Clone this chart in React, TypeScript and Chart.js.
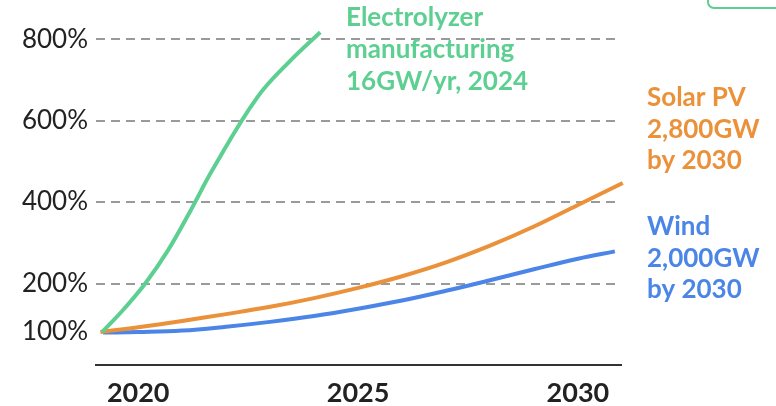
import React, { useEffect, useRef } from "react";
import { Chart, registerables, LinearScale } from "chart.js";

// ---- Data ----
const xTickYears = [2020, 2025, 2030];
const yTickValues = [100, 200, 400, 600, 800];

const electrolyzerYears = [2019.18, 2019.66, 2020.16, 2020.68, 2021.18, 2021.7, 2022.7, 2023.45, 2024.14];
const electrolyzerValues = [100, 146, 200, 282, 377, 481, 656, 746, 817];

const solarYears = [2019.14, 2020, 2021, 2022, 2023, 2024, 2025, 2026, 2027, 2028, 2029, 2030, 2031.02];
const solarValues = [100, 110, 123, 137, 152, 170, 191, 218, 252, 293, 340, 393, 447];

const windYears = [2019.2, 2020, 2021, 2022, 2023, 2024, 2025, 2026, 2027, 2028, 2029, 2030, 2030.84];
const windValues = [99, 100, 103, 111, 121, 133, 148, 165, 185, 208, 235, 261, 279];

const electrolyzerLabel = ["Electrolyzer", "manufacturing", "16GW/yr, 2024"];
const solarLabel = ["Solar PV", "2,800GW", "by 2030"];
const windLabel = ["Wind", "2,000GW", "by 2030"];

// ---- Style ----
const GREEN = "#5ccf91";
const ORANGE = "#ea9139";
const BLUE = "#4b85e8";
const TEXT = "#222222";
const GRID = "#9a9a9a";

// The reference axis is stretched below 200%
const LOW_STRETCH = 0.49 / 0.4112;

class BrokenLinearScale extends LinearScale {
  static id = "brokenLinear";
  static defaults = LinearScale.defaults;
  getPixelForValue(value: number) {
    const v = value >= 200 ? value : 200 - (200 - value) * LOW_STRETCH;
    return super.getPixelForValue(v);
  }
  getValueForPixel(pixel: number) {
    const v = super.getValueForPixel(pixel) as number;
    return v >= 200 ? v : 200 - (200 - v) / LOW_STRETCH;
  }
}

Chart.register(...registerables, BrokenLinearScale as any);

const toPoints = (xs: number[], ys: number[]) => xs.map((x, i) => ({ x, y: ys[i] }));

const labelsPlugin = {
  id: "sideLabels",
  afterDraw(chart: any) {
    const ctx = chart.ctx;
    ctx.save();
    ctx.font = "bold 26px Lato";
    ctx.textAlign = "left";
    ctx.textBaseline = "alphabetic";
    const groups: [string[], string, number, number, number][] = [
      [electrolyzerLabel, GREEN, 346, 26, 32],
      [solarLabel, ORANGE, 647, 106, 31.5],
      [windLabel, BLUE, 647, 235, 31.5],
    ];
    for (const [lines, color, x, y, lh] of groups) {
      ctx.fillStyle = color;
      lines.forEach((t, i) => ctx.fillText(t, x, y + i * lh));
    }
    ctx.restore();
  },
};

export default function App() {
  const canvasRef = useRef<HTMLCanvasElement | null>(null);

  useEffect(() => {
    if (!canvasRef.current) return;
    Chart.defaults.font.family = "Lato";
    const lineStyle = {
      borderWidth: 4,
      pointRadius: 0,
      tension: 0.4,
      clip: false as any,
    };
    const chart = new Chart(canvasRef.current, {
      type: "line",
      data: {
        datasets: [
          { label: "Electrolyzer", data: toPoints(electrolyzerYears, electrolyzerValues), borderColor: GREEN, ...lineStyle },
          { label: "Solar PV", data: toPoints(solarYears, solarValues), borderColor: ORANGE, ...lineStyle },
          { label: "Wind", data: toPoints(windYears, windValues), borderColor: BLUE, ...lineStyle },
        ],
      },
      options: {
        animation: false,
        responsive: false,
        devicePixelRatio: 1,
        layout: { padding: { left: 0, right: 155, top: 20, bottom: 0 } },
        plugins: { legend: { display: false }, tooltip: { enabled: false } },
        scales: {
          x: {
            type: "linear",
            min: 2019.04,
            max: 2030.98,
            afterBuildTicks: (axis: any) => {
              axis.ticks = xTickYears.map((value) => ({ value }));
            },
            afterFit: (scale: any) => {
              scale.height = 41;
            },
            grid: { display: false, drawTicks: false },
            border: { display: true, color: "#333333", width: 2 },
            ticks: {
              padding: 12,
              color: TEXT,
              font: { family: "Lato", size: 27, weight: "bold" },
              callback: (v: any) => String(v),
              maxRotation: 0,
              autoSkip: false,
            },
          },
          y: {
            type: "brokenLinear" as any,
            min: 0,
            max: 838.2,
            afterBuildTicks: (axis: any) => {
              axis.ticks = yTickValues.map((value) => ({ value }));
            },
            afterFit: (scale: any) => {
              scale.width = 96;
            },
            grid: {
              drawTicks: false,
              lineWidth: 2,
              color: (c: any) => (c.tick && c.tick.value === 100 ? "rgba(0,0,0,0)" : GRID),
            },
            border: { display: false, dash: [9, 6] },
            ticks: {
              padding: 8,
              color: TEXT,
              font: { family: "Lato", size: 26, weight: "normal" },
              callback: (v: any) => v + "%",
              autoSkip: false,
            },
          },
        },
      },
      plugins: [labelsPlugin],
    } as any);
    return () => chart.destroy();
  }, []);

  return (
    <div style={{ position: "fixed", left: 0, top: 0, width: 776, height: 406, background: "#fff", overflow: "hidden" }}>
      <canvas ref={canvasRef} width={776} height={406} style={{ display: "block" }} />
      <div
        style={{
          position: "absolute",
          left: 707,
          top: -30,
          width: 90,
          height: 35,
          border: `2px solid ${GREEN}`,
          borderRadius: 7,
        }}
      />
    </div>
  );
}
